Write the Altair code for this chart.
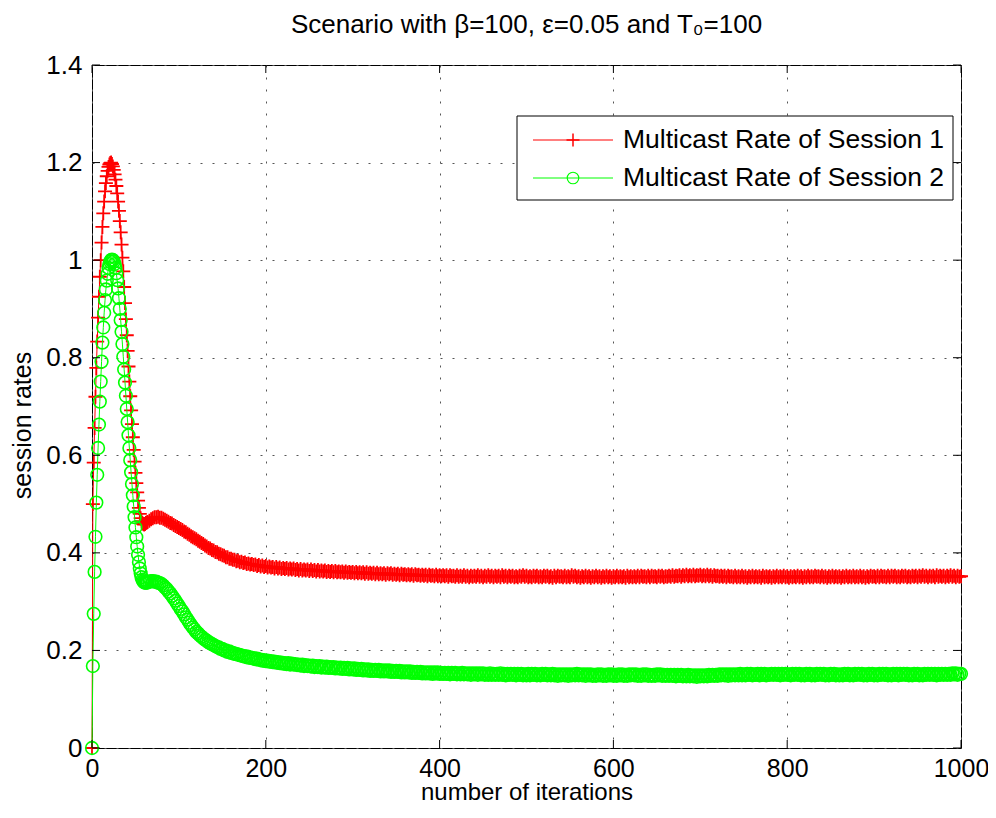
import altair as alt
import pandas as pd

FONT = "Liberation Sans"

# ---------------- data ----------------
iter_early = list(range(0, 64))          # every iteration at the start
iter_tail = list(range(64, 1001, 2))     # then every 2nd iteration

rate1_early = [
    0.000, 0.500, 0.585, 0.656, 0.720, 0.779, 0.833, 0.882, 0.925, 0.966,
    1.000, 1.036, 1.068, 1.096, 1.120, 1.141, 1.158, 1.172, 1.183, 1.191,
    1.196, 1.199, 1.200, 1.197, 1.192, 1.185, 1.176, 1.165, 1.152, 1.137,
    1.120, 1.101, 1.080, 1.057, 1.032, 1.005, 0.977, 0.945, 0.912, 0.879,
    0.846, 0.814, 0.782, 0.751, 0.721, 0.692, 0.664, 0.637, 0.611, 0.587,
    0.564, 0.543, 0.524, 0.507, 0.492, 0.480, 0.471, 0.465, 0.461, 0.459,
    0.458, 0.459, 0.461, 0.462,
]
rate2_early = [
    0.000, 0.168, 0.275, 0.361, 0.433, 0.503, 0.560, 0.615, 0.663, 0.710,
    0.751, 0.792, 0.831, 0.862, 0.892, 0.918, 0.940, 0.958, 0.972, 0.984,
    0.992, 0.997, 1.000, 1.001, 1.000, 0.997, 0.992, 0.984, 0.973, 0.959,
    0.942, 0.922, 0.900, 0.877, 0.853, 0.828, 0.802, 0.776, 0.749, 0.722,
    0.695, 0.668, 0.641, 0.615, 0.590, 0.565, 0.541, 0.518, 0.495, 0.473,
    0.452, 0.432, 0.413, 0.396, 0.381, 0.368, 0.358, 0.350, 0.345, 0.342,
    0.340, 0.339, 0.339, 0.339,
]
rate1_tail = [
    0.463, 0.466, 0.469, 0.471, 0.473, 0.473, 0.474, 0.472, 0.472, 0.470,
    0.468, 0.466, 0.464, 0.461, 0.460, 0.457, 0.455, 0.453, 0.451, 0.449,
    0.447, 0.444, 0.442, 0.439, 0.437, 0.434, 0.432, 0.430, 0.428, 0.425,
    0.423, 0.420, 0.418, 0.415, 0.413, 0.410, 0.409, 0.406, 0.405, 0.402,
    0.401, 0.398, 0.397, 0.395, 0.394, 0.391, 0.391, 0.388, 0.388, 0.386,
    0.386, 0.383, 0.384, 0.381, 0.382, 0.379, 0.380, 0.377, 0.378, 0.376,
    0.377, 0.375, 0.376, 0.373, 0.375, 0.372, 0.374, 0.371, 0.373, 0.370,
    0.372, 0.370, 0.371, 0.368, 0.371, 0.368, 0.370, 0.367, 0.369, 0.367,
    0.369, 0.366, 0.368, 0.366, 0.368, 0.365, 0.367, 0.364, 0.367, 0.364,
    0.366, 0.364, 0.366, 0.363, 0.366, 0.363, 0.365, 0.362, 0.365, 0.362,
    0.364, 0.362, 0.364, 0.361, 0.363, 0.361, 0.363, 0.360, 0.363, 0.360,
    0.362, 0.360, 0.362, 0.359, 0.362, 0.359, 0.361, 0.359, 0.361, 0.358,
    0.361, 0.358, 0.360, 0.358, 0.360, 0.357, 0.360, 0.357, 0.359, 0.357,
    0.359, 0.356, 0.359, 0.356, 0.358, 0.356, 0.358, 0.355, 0.358, 0.356,
    0.358, 0.355, 0.357, 0.355, 0.357, 0.354, 0.357, 0.355, 0.356, 0.354,
    0.356, 0.354, 0.356, 0.353, 0.356, 0.354, 0.355, 0.353, 0.355, 0.353,
    0.355, 0.352, 0.355, 0.353, 0.354, 0.352, 0.355, 0.352, 0.354, 0.352,
    0.354, 0.352, 0.354, 0.351, 0.354, 0.352, 0.353, 0.351, 0.354, 0.351,
    0.353, 0.351, 0.354, 0.351, 0.353, 0.350, 0.353, 0.351, 0.353, 0.351,
    0.354, 0.351, 0.353, 0.350, 0.353, 0.351, 0.354, 0.351, 0.353, 0.350,
    0.353, 0.351, 0.353, 0.350, 0.354, 0.351, 0.353, 0.350, 0.353, 0.351,
    0.353, 0.350, 0.352, 0.350, 0.353, 0.351, 0.354, 0.351, 0.353, 0.350,
    0.352, 0.350, 0.353, 0.351, 0.353, 0.350, 0.352, 0.350, 0.353, 0.351,
    0.353, 0.350, 0.352, 0.349, 0.353, 0.350, 0.353, 0.351, 0.352, 0.350,
    0.353, 0.350, 0.352, 0.350, 0.354, 0.351, 0.353, 0.350, 0.352, 0.349,
    0.352, 0.350, 0.353, 0.350, 0.352, 0.349, 0.352, 0.350, 0.353, 0.350,
    0.352, 0.349, 0.352, 0.350, 0.353, 0.350, 0.352, 0.349, 0.352, 0.350,
    0.353, 0.350, 0.352, 0.350, 0.352, 0.349, 0.353, 0.350, 0.352, 0.350,
    0.352, 0.350, 0.353, 0.350, 0.353, 0.351, 0.352, 0.350, 0.353, 0.350,
    0.353, 0.351, 0.352, 0.350, 0.353, 0.351, 0.353, 0.350, 0.352, 0.351,
    0.353, 0.351, 0.354, 0.351, 0.353, 0.352, 0.354, 0.351, 0.354, 0.352,
    0.355, 0.352, 0.354, 0.352, 0.355, 0.352, 0.354, 0.353, 0.355, 0.352,
    0.354, 0.352, 0.355, 0.352, 0.354, 0.351, 0.354, 0.352, 0.353, 0.351,
    0.353, 0.351, 0.353, 0.350, 0.353, 0.351, 0.352, 0.350, 0.353, 0.350,
    0.352, 0.350, 0.353, 0.350, 0.352, 0.349, 0.352, 0.350, 0.353, 0.350,
    0.352, 0.350, 0.352, 0.349, 0.353, 0.350, 0.352, 0.350, 0.352, 0.349,
    0.352, 0.350, 0.353, 0.350, 0.352, 0.350, 0.353, 0.350, 0.352, 0.349,
    0.352, 0.350, 0.352, 0.350, 0.353, 0.350, 0.352, 0.349, 0.352, 0.350,
    0.353, 0.350, 0.352, 0.350, 0.353, 0.351, 0.352, 0.350, 0.353, 0.350,
    0.352, 0.349, 0.352, 0.350, 0.353, 0.350, 0.352, 0.350, 0.352, 0.349,
    0.352, 0.350, 0.353, 0.350, 0.352, 0.350, 0.353, 0.350, 0.352, 0.350,
    0.353, 0.350, 0.352, 0.349, 0.352, 0.350, 0.353, 0.351, 0.352, 0.350,
    0.353, 0.350, 0.353, 0.351, 0.352, 0.350, 0.353, 0.350, 0.353, 0.351,
    0.353, 0.350, 0.352, 0.350, 0.353, 0.351, 0.353, 0.350, 0.352, 0.350,
    0.353, 0.351, 0.353, 0.350, 0.353, 0.351, 0.354, 0.351, 0.353, 0.350,
    0.353, 0.351, 0.353, 0.350, 0.354, 0.351, 0.353, 0.351, 0.353, 0.350,
    0.353, 0.351, 0.354, 0.351, 0.353, 0.350, 0.353, 0.351, 0.352,
]
rate2_tail = [
    0.340, 0.341, 0.342, 0.342, 0.341, 0.341, 0.339, 0.338, 0.336, 0.333,
    0.329, 0.326, 0.321, 0.317, 0.312, 0.307, 0.302, 0.296, 0.291, 0.285,
    0.280, 0.274, 0.268, 0.263, 0.257, 0.252, 0.247, 0.243, 0.238, 0.235,
    0.231, 0.228, 0.225, 0.222, 0.220, 0.217, 0.215, 0.213, 0.211, 0.209,
    0.207, 0.206, 0.203, 0.203, 0.200, 0.200, 0.197, 0.198, 0.195, 0.195,
    0.193, 0.193, 0.191, 0.191, 0.189, 0.189, 0.187, 0.188, 0.185, 0.186,
    0.184, 0.184, 0.182, 0.183, 0.181, 0.181, 0.179, 0.180, 0.178, 0.179,
    0.177, 0.178, 0.176, 0.177, 0.175, 0.176, 0.174, 0.175, 0.173, 0.174,
    0.172, 0.174, 0.171, 0.173, 0.171, 0.172, 0.170, 0.171, 0.169, 0.171,
    0.168, 0.170, 0.168, 0.169, 0.167, 0.169, 0.166, 0.168, 0.166, 0.168,
    0.165, 0.167, 0.165, 0.167, 0.164, 0.166, 0.164, 0.166, 0.163, 0.165,
    0.163, 0.165, 0.162, 0.164, 0.162, 0.164, 0.161, 0.163, 0.161, 0.163,
    0.160, 0.162, 0.160, 0.162, 0.159, 0.161, 0.159, 0.161, 0.158, 0.160,
    0.158, 0.160, 0.158, 0.160, 0.157, 0.159, 0.157, 0.159, 0.157, 0.159,
    0.156, 0.158, 0.156, 0.158, 0.156, 0.158, 0.155, 0.157, 0.155, 0.157,
    0.155, 0.157, 0.154, 0.156, 0.154, 0.156, 0.154, 0.156, 0.153, 0.155,
    0.153, 0.155, 0.153, 0.155, 0.152, 0.155, 0.153, 0.155, 0.152, 0.154,
    0.152, 0.154, 0.152, 0.154, 0.151, 0.154, 0.152, 0.154, 0.151, 0.153,
    0.151, 0.154, 0.151, 0.153, 0.151, 0.153, 0.150, 0.153, 0.151, 0.153,
    0.150, 0.153, 0.151, 0.153, 0.150, 0.152, 0.150, 0.153, 0.150, 0.152,
    0.150, 0.152, 0.150, 0.153, 0.150, 0.152, 0.149, 0.152, 0.150, 0.152,
    0.150, 0.152, 0.149, 0.152, 0.150, 0.152, 0.149, 0.151, 0.149, 0.152,
    0.149, 0.152, 0.150, 0.152, 0.149, 0.151, 0.149, 0.152, 0.150, 0.152,
    0.149, 0.151, 0.149, 0.152, 0.149, 0.151, 0.148, 0.151, 0.149, 0.151,
    0.149, 0.151, 0.148, 0.151, 0.149, 0.151, 0.149, 0.152, 0.149, 0.151,
    0.149, 0.151, 0.148, 0.151, 0.149, 0.151, 0.148, 0.150, 0.148, 0.151,
    0.149, 0.151, 0.148, 0.150, 0.148, 0.151, 0.149, 0.151, 0.148, 0.150,
    0.148, 0.151, 0.149, 0.151, 0.148, 0.150, 0.148, 0.151, 0.149, 0.151,
    0.149, 0.151, 0.148, 0.150, 0.148, 0.151, 0.149, 0.151, 0.148, 0.150,
    0.148, 0.150, 0.148, 0.151, 0.149, 0.151, 0.148, 0.150, 0.148, 0.150,
    0.148, 0.150, 0.148, 0.150, 0.147, 0.150, 0.148, 0.150, 0.147, 0.149,
    0.147, 0.150, 0.147, 0.149, 0.147, 0.149, 0.146, 0.149, 0.147, 0.149,
    0.147, 0.149, 0.147, 0.150, 0.148, 0.150, 0.148, 0.150, 0.148, 0.151,
    0.149, 0.151, 0.149, 0.151, 0.148, 0.151, 0.149, 0.151, 0.149, 0.151,
    0.149, 0.152, 0.149, 0.151, 0.149, 0.152, 0.150, 0.152, 0.149, 0.151,
    0.150, 0.152, 0.149, 0.152, 0.150, 0.152, 0.149, 0.151, 0.150, 0.152,
    0.150, 0.152, 0.150, 0.152, 0.149, 0.152, 0.150, 0.152, 0.150, 0.151,
    0.149, 0.152, 0.150, 0.152, 0.150, 0.152, 0.149, 0.151, 0.149, 0.152,
    0.150, 0.152, 0.149, 0.151, 0.149, 0.152, 0.150, 0.152, 0.150, 0.152,
    0.149, 0.151, 0.149, 0.152, 0.150, 0.152, 0.149, 0.151, 0.149, 0.151,
    0.149, 0.152, 0.150, 0.152, 0.149, 0.151, 0.149, 0.152, 0.150, 0.152,
    0.150, 0.152, 0.149, 0.151, 0.149, 0.152, 0.150, 0.152, 0.149, 0.151,
    0.149, 0.152, 0.150, 0.152, 0.150, 0.152, 0.149, 0.151, 0.149, 0.152,
    0.150, 0.152, 0.149, 0.152, 0.150, 0.152, 0.150, 0.152, 0.149, 0.151,
    0.149, 0.152, 0.150, 0.152, 0.149, 0.151, 0.149, 0.152, 0.150, 0.152,
    0.150, 0.152, 0.150, 0.152, 0.149, 0.152, 0.150, 0.152, 0.150, 0.152,
    0.150, 0.152, 0.150, 0.153, 0.151, 0.153, 0.150, 0.152, 0.152,
]

x_ticks = [0, 200, 400, 600, 800, 1000]
y_ticks = [0, 0.2, 0.4, 0.6, 0.8, 1.0, 1.2, 1.4]
series_names = ["Multicast Rate of Session 1", "Multicast Rate of Session 2"]
series_colors = ["#ff0000", "#00ff00"]
title_text = "Scenario with \u03b2=100, \u03b5=0.05 and T\u2080=100"
x_title = "number of iterations"
y_title = "session rates"

# ---------------- build ----------------
W, H = 869, 683
iters = iter_early + iter_tail
df1 = pd.DataFrame({"iteration": iters, "rate": rate1_early + rate1_tail})
df2 = pd.DataFrame({"iteration": iters, "rate": rate2_early + rate2_tail})

xscale = alt.Scale(domain=[0, 1000], nice=False, zero=False)
yscale = alt.Scale(domain=[0, 1.4], nice=False, zero=False)

common_axis = dict(
    grid=True, gridDash=[2, 10], gridColor="#555555", gridWidth=1,
    ticks=False, domain=False, labelFlush=False, labelFont=FONT,
    labelColor="black", titleFont=FONT,
    titleFontWeight="normal", titleColor="black",
)
xaxis = alt.Axis(values=x_ticks, title=x_title, labelPadding=8,
                 labelFontSize=25, titleFontSize=24,
                 titleBaseline="alphabetic", titleY=51,
                 format="d", **common_axis)
yaxis = alt.Axis(values=y_ticks, title=y_title, labelPadding=10,
                 labelFontSize=26, titleFontSize=25, titlePadding=10,
                 titleY=360, format=".1~f", **common_axis)


def X(field):
    return alt.X(field, scale=xscale, axis=xaxis)


def Y(field):
    return alt.Y(field, scale=yscale, axis=yaxis)


PLUS = "M-1,0H1M0,-1V1"
PLUS_SIZE, CIRC_SIZE = 196, 160


def series_layers(df, color, shape, size, sw):
    line = alt.Chart(df).mark_line(color=color, strokeWidth=1).encode(
        x=X("iteration:Q"), y=Y("rate:Q"))
    pts = alt.Chart(df).mark_point(
        shape=shape, size=size, filled=False, color=color, strokeWidth=sw, opacity=1
    ).encode(x=X("iteration:Q"), y=Y("rate:Q"))
    return line, pts


l1, p1 = series_layers(df1, series_colors[0], PLUS, PLUS_SIZE, 1.8)
l2, p2 = series_layers(df2, series_colors[1], "circle", CIRC_SIZE, 1.6)

# inward ticks on all four sides (MATLAB style box)
xt = pd.DataFrame({"t": x_ticks})
yt = pd.DataFrame({"t": y_ticks})
TL = 8
xt_bot = alt.Chart(xt).mark_rule(color="black", strokeWidth=1).encode(
    x=X("t:Q"), y=alt.value(H), y2=alt.value(H - TL))
xt_top = alt.Chart(xt).mark_rule(color="black", strokeWidth=1).encode(
    x=X("t:Q"), y=alt.value(0), y2=alt.value(TL))
yt_left = alt.Chart(yt).mark_rule(color="black", strokeWidth=1).encode(
    y=Y("t:Q"), x=alt.value(0), x2=alt.value(TL))
yt_right = alt.Chart(yt).mark_rule(color="black", strokeWidth=1).encode(
    y=Y("t:Q"), x=alt.value(W - TL), x2=alt.value(W))

# legend box (drawn inside the plot area)
one = pd.DataFrame({"a": [0]})
LX0, LX1, LY0, LY1 = 425, 861, 51, 135
leg_box = alt.Chart(one).mark_rect(fill="white", stroke="black", strokeWidth=1).encode(
    x=alt.value(LX0), x2=alt.value(LX1), y=alt.value(LY0), y2=alt.value(LY1))
leg_layers = [leg_box]
row_y = [75, 113]
shapes = [(PLUS, 169, 1.5), ("circle", 133, 1.2)]
for name, color, ry, (shp, sz, sw) in zip(series_names, series_colors, row_y, shapes):
    ldf = pd.DataFrame({"label": [name]})
    leg_layers.append(alt.Chart(ldf).mark_rule(color=color, strokeWidth=1).encode(
        x=alt.value(441), x2=alt.value(521), y=alt.value(ry)))
    leg_layers.append(alt.Chart(ldf).mark_point(
        shape=shp, size=sz, filled=False, color=color, strokeWidth=sw, opacity=1
    ).encode(x=alt.value(481), y=alt.value(ry)))
    leg_layers.append(alt.Chart(ldf).mark_text(
        align="left", baseline="middle", font=FONT, fontSize=26.5, color="black"
    ).encode(x=alt.value(531), y=alt.value(ry), text="label:N"))

chart = alt.layer(
    l1, p1, l2, p2, xt_bot, xt_top, yt_left, yt_right, *leg_layers
).properties(
    width=W, height=H,
    title=alt.TitleParams(title_text, font=FONT, fontSize=26, fontWeight="normal",
                          color="black", anchor="middle", offset=14),
    padding={"left": 84, "top": 57, "right": 27, "bottom": 57},
    autosize=alt.AutoSizeParams(type="none"),
).configure_view(stroke="black", strokeWidth=1)

chart.save("out.html", embed_options={"renderer": "svg", "actions": False})
